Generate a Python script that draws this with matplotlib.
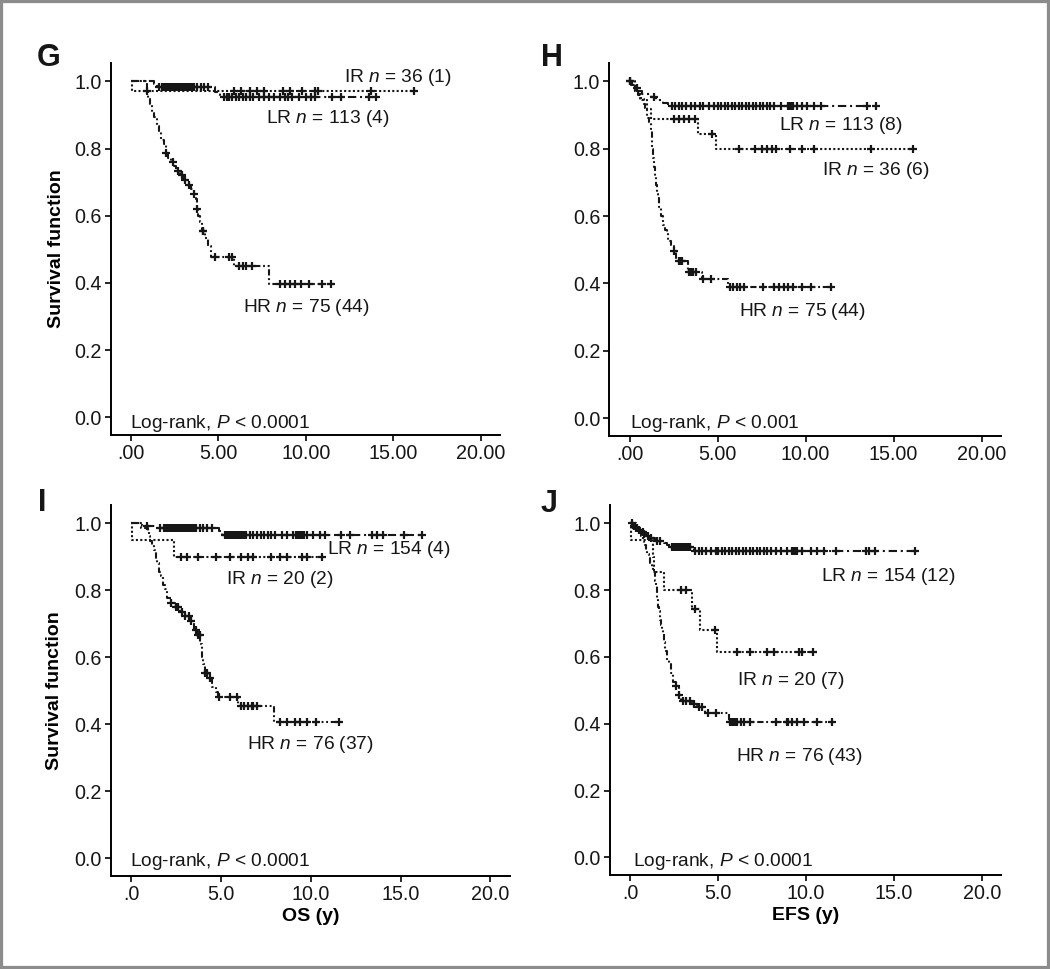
import numpy as np
import matplotlib.pyplot as plt
from matplotlib.patches import Rectangle

plt.rcParams['font.family'] = ['Liberation Sans', 'DejaVu Sans']
plt.rcParams['mathtext.fontset'] = 'custom'
plt.rcParams['mathtext.rm'] = 'Liberation Sans'
plt.rcParams['mathtext.it'] = 'Liberation Sans:italic'

# ---- panel G (OS, first cohort) ----
g_lr_t = [1.3, 1.5, 4.8, 5.1]
g_lr_s = [0.991, 0.982, 0.968, 0.955]
g_lr_end = 14.0
g_lr_cens = [1.6, 1.8, 1.9, 2.0, 2.1, 2.2, 2.3, 2.4, 2.5, 2.6, 2.7, 2.8, 2.9, 3.0, 3.1, 3.2,
             3.3, 3.4, 3.5, 3.6, 3.8, 4.0, 4.2, 4.4, 5.3, 5.5, 5.6, 5.8, 6.0, 6.2, 6.4, 6.6,
             6.8, 7.0, 7.3, 7.6, 7.9, 8.2, 8.5, 8.8, 9.0, 9.2, 9.6, 10.0, 10.3, 10.5, 11.5,
             12.0, 13.6, 14.0]

g_ir_t = [0.05]
g_ir_s = [0.972]
g_ir_end = 16.2
g_ir_cens = [5.9, 6.3, 6.8, 7.2, 7.6, 8.7, 9.1, 9.8, 10.5, 10.7, 13.7, 16.2]

g_hr_t = [0.9, 1.0, 1.1, 1.2, 1.35, 1.5, 1.6, 1.75, 1.9, 2.0, 2.15, 2.3, 2.45, 2.6, 2.8,
          3.0, 3.3, 3.45, 3.6, 3.7, 3.8, 3.85, 3.95, 4.05, 4.25, 4.4, 4.6, 5.9, 7.9]
g_hr_s = [0.973, 0.947, 0.933, 0.907, 0.893, 0.867, 0.853, 0.827, 0.813, 0.787, 0.773, 0.76,
          0.747, 0.733, 0.72, 0.707, 0.693, 0.68, 0.665, 0.65, 0.62, 0.60, 0.58, 0.555, 0.535,
          0.51, 0.476, 0.449, 0.397]
g_hr_end = 11.43
g_hr_cens = [0.95, 2.0, 2.4, 2.7, 2.9, 3.1, 3.3, 3.6, 3.8, 4.1, 4.15, 4.8, 5.6, 5.8, 6.2,
             6.4, 6.6, 6.9, 8.5, 8.8, 9.1, 9.4, 9.7, 10.2, 10.9, 11.43]

# ---- panel H (EFS, first cohort) ----
h_lr_t = [0.1, 0.3, 0.5, 0.7, 1.2, 1.5, 1.9, 2.2]
h_lr_s = [0.991, 0.982, 0.973, 0.964, 0.955, 0.946, 0.937, 0.928]
h_lr_end = 14.0
h_lr_cens = [0.05, 0.4, 1.4, 2.4, 2.6, 2.8, 3.0, 3.2, 3.5, 3.7, 4.0, 4.2, 4.5, 4.8, 5.0, 5.2,
             5.4, 5.6, 5.8, 6.0, 6.2, 6.4, 6.6, 6.8, 7.0, 7.2, 7.4, 7.6, 7.8, 8.0, 8.2, 8.6,
             9.0, 9.1, 9.2, 9.3, 9.5, 9.8, 10.1, 10.5, 10.9, 13.5, 14.0]

h_ir_t = [0.3, 0.6, 1.0, 1.2, 3.9, 4.9]
h_ir_s = [0.972, 0.944, 0.917, 0.889, 0.844, 0.800]
h_ir_end = 16.2
h_ir_cens = [2.5, 2.8, 3.1, 3.4, 3.7, 4.7, 6.2, 7.1, 7.5, 7.8, 8.1, 8.3, 9.1, 9.8, 10.5, 13.7, 16.1]

h_hr_t = [0.15, 0.3, 0.5, 0.65, 0.8, 0.9, 1.0, 1.1, 1.2, 1.25, 1.3, 1.35, 1.4, 1.45, 1.5,
          1.55, 1.6, 1.65, 1.7, 1.8, 1.9, 2.0, 2.1, 2.2, 2.35, 2.5, 2.65, 3.3, 4.1, 5.6]
h_hr_s = [0.987, 0.973, 0.96, 0.947, 0.933, 0.92, 0.893, 0.88, 0.853, 0.827, 0.80, 0.773,
          0.747, 0.72, 0.693, 0.667, 0.653, 0.64, 0.627, 0.60, 0.573, 0.56, 0.547, 0.527,
          0.513, 0.497, 0.468, 0.433, 0.414, 0.389]
h_hr_end = 11.45
h_hr_cens = [0.05, 2.5, 2.8, 2.9, 3.0, 3.4, 3.5, 3.6, 3.8, 4.2, 4.6, 5.7, 5.9, 6.1, 6.3,
             6.5, 7.6, 8.2, 8.5, 8.8, 9.0, 9.3, 9.8, 10.3, 11.45]

# ---- panel I (OS, second cohort) ----
i_lr_t = [0.6, 1.45, 4.9, 5.05]
i_lr_s = [0.993, 0.986, 0.976, 0.966]
i_lr_end = 16.2
i_lr_cens = [0.9, 1.6, 1.8, 1.9, 2.0, 2.1, 2.2, 2.3, 2.4, 2.5, 2.6, 2.7, 2.8, 2.9, 3.0, 3.1,
             3.2, 3.3, 3.4, 3.5, 3.6, 3.8, 4.0, 4.2, 4.5, 5.2, 5.3, 5.4, 5.5, 5.6, 5.7, 5.8,
             5.9, 6.0, 6.1, 6.2, 6.3, 6.4, 6.6, 6.8, 7.0, 7.2, 7.4, 7.6, 7.8, 8.0, 8.4, 8.7,
             9.0, 9.2, 9.3, 9.4, 9.5, 9.6, 9.8, 10.1, 10.5, 10.8, 11.7, 12.2, 13.4, 13.7,
             14.0, 15.2, 16.2]

i_ir_t = [0.05, 2.38]
i_ir_s = [0.95, 0.90]
i_ir_end = 10.65
i_ir_cens = [2.75, 3.1, 3.7, 4.7, 5.5, 6.1, 6.5, 6.8, 7.8, 8.3, 8.7, 9.5, 9.8, 10.65]

i_hr_t = [0.52, 0.95, 1.0, 1.05, 1.15, 1.25, 1.35, 1.45, 1.55, 1.65, 1.75, 1.85, 2.0, 2.2,
          2.45, 2.7, 3.0, 3.3, 3.5, 3.7, 3.85, 3.95, 4.0, 4.1, 4.3, 4.5, 4.7, 4.85, 5.95, 7.95]
i_hr_s = [0.987, 0.974, 0.961, 0.947, 0.934, 0.921, 0.895, 0.882, 0.855, 0.842, 0.816, 0.803,
          0.776, 0.763, 0.75, 0.736, 0.722, 0.708, 0.681, 0.667, 0.64, 0.60, 0.58, 0.553,
          0.539, 0.51, 0.496, 0.481, 0.456, 0.406]
i_hr_end = 11.58
i_hr_cens = [2.2, 2.5, 2.6, 2.8, 3.0, 3.2, 3.3, 3.6, 3.7, 3.8, 4.1, 4.2, 4.4, 4.9, 5.5, 5.9,
             6.1, 6.3, 6.5, 6.7, 6.8, 7.0, 8.3, 8.7, 9.1, 9.4, 9.8, 10.3, 11.58]

# ---- panel J (EFS, second cohort) ----
j_lr_t = [0.15, 0.3, 0.45, 0.6, 0.75, 0.9, 1.1, 1.4, 1.9, 2.1, 2.3, 3.6]
j_lr_s = [0.9935, 0.987, 0.981, 0.974, 0.968, 0.961, 0.955, 0.948, 0.942, 0.935, 0.928, 0.918]
j_lr_end = 16.2
j_lr_cens = [0.2, 0.4, 0.5, 0.7, 0.8, 1.0, 1.2, 1.5, 1.7, 2.4, 2.5, 2.6, 2.7, 2.8, 2.9, 3.0,
             3.1, 3.2, 3.3, 3.4, 3.7, 3.9, 4.1, 4.3, 4.6, 4.9, 5.0, 5.2, 5.4, 5.6, 5.8, 6.0,
             6.2, 6.4, 6.6, 6.8, 7.0, 7.2, 7.4, 7.6, 7.8, 8.0, 8.3, 8.6, 8.9, 9.2, 9.3, 9.4,
             9.5, 9.8, 10.3, 10.6, 11.0, 11.7, 13.4, 13.6, 13.9, 16.2]

j_ir_t = [0.05, 1.3, 1.37, 1.9, 3.5, 3.97, 4.93]
j_ir_s = [0.95, 0.90, 0.853, 0.80, 0.745, 0.68, 0.614]
j_ir_end = 10.6
j_ir_cens = [2.9, 3.2, 3.7, 4.8, 6.1, 6.8, 7.8, 8.2, 9.6, 9.8, 10.4]

j_hr_t = [0.3, 0.5, 0.62, 0.7, 0.78, 0.87, 0.95, 1.05, 1.15, 1.25, 1.32, 1.4, 1.45, 1.5, 1.55,
          1.6, 1.65, 1.7, 1.75, 1.8, 1.85, 1.9, 2.0, 2.1, 2.2, 2.3, 2.45, 2.6, 2.75, 2.9,
          3.5, 3.8, 4.25, 5.6]
j_hr_s = [0.987, 0.974, 0.961, 0.947, 0.934, 0.921, 0.908, 0.895, 0.882, 0.868, 0.855, 0.829,
          0.816, 0.79, 0.776, 0.75, 0.737, 0.711, 0.697, 0.684, 0.671, 0.645, 0.618, 0.592,
          0.579, 0.553, 0.526, 0.513, 0.487, 0.469, 0.459, 0.449, 0.432, 0.404]
j_hr_end = 11.47
j_hr_cens = [0.1, 0.3, 2.6, 2.8, 3.0, 3.2, 3.4, 3.6, 3.9, 4.1, 4.4, 4.9, 5.7, 5.8, 5.9, 6.0,
             6.1, 6.3, 6.5, 6.8, 8.3, 8.9, 9.0, 9.2, 9.5, 9.9, 10.6, 11.47]

# line styles: LR dash-dot, IR dotted, HR dash-dot-dot
ls_lr = (0, (4, 1.8, 1, 1.8))
ls_ir = (0, (1, 1.1))
ls_hr = (0, (3, 1.3, 0.9, 1.3, 0.9, 1.3))


def km_curve(ax, times, surv, end, cens, ls):
    x = [0] + times + [end]
    y = [1.0] + surv + [surv[-1]]
    ax.step(x, y, where='post', color='#161616', lw=1.5, linestyle=ls)
    lev = np.array([1.0] + surv)
    cy = lev[np.searchsorted(times, cens, side='right')]
    ax.plot(cens, cy, linestyle='none', marker='+', ms=5.2, mew=1.6, color='#161616')


fig = plt.figure(figsize=(10.5, 9.69), dpi=100)

ax_g = fig.add_axes([0.1054, 0.5511, 0.3708, 0.3839])
ax_h = fig.add_axes([0.5803, 0.5501, 0.3730, 0.3849])
ax_i = fig.add_axes([0.1054, 0.0960, 0.3803, 0.3829])
ax_j = fig.add_axes([0.5810, 0.0970, 0.3724, 0.3818])

km_curve(ax_g, g_ir_t, g_ir_s, g_ir_end, g_ir_cens, ls_ir)
km_curve(ax_g, g_lr_t, g_lr_s, g_lr_end, g_lr_cens, ls_lr)
km_curve(ax_g, g_hr_t, g_hr_s, g_hr_end, g_hr_cens, ls_hr)

km_curve(ax_h, h_ir_t, h_ir_s, h_ir_end, h_ir_cens, ls_ir)
km_curve(ax_h, h_lr_t, h_lr_s, h_lr_end, h_lr_cens, ls_lr)
km_curve(ax_h, h_hr_t, h_hr_s, h_hr_end, h_hr_cens, ls_hr)

km_curve(ax_i, i_ir_t, i_ir_s, i_ir_end, i_ir_cens, ls_ir)
km_curve(ax_i, i_lr_t, i_lr_s, i_lr_end, i_lr_cens, ls_lr)
km_curve(ax_i, i_hr_t, i_hr_s, i_hr_end, i_hr_cens, ls_hr)

km_curve(ax_j, j_ir_t, j_ir_s, j_ir_end, j_ir_cens, ls_ir)
km_curve(ax_j, j_lr_t, j_lr_s, j_lr_end, j_lr_cens, ls_lr)
km_curve(ax_j, j_hr_t, j_hr_s, j_hr_end, j_hr_cens, ls_hr)

fs = 13.8
xticks = [0, 5, 10, 15, 20]
top_xlabels = ['.00', '5.00', '10.00', '15.00', '20.00']
bot_xlabels = ['.0', '5.0', '10.0', '15.0', '20.0']
yticks = [0.0, 0.2, 0.4, 0.6, 0.8, 1.0]

for ax in [ax_g, ax_h, ax_i, ax_j]:
    ax.set_xlim(-1.15, 21.1)
    ax.set_ylim(-0.053, 1.055)
    ax.spines['top'].set_visible(False)
    ax.spines['right'].set_visible(False)
    ax.spines['left'].set_linewidth(1.4)
    ax.spines['bottom'].set_linewidth(1.4)
    ax.set_xticks(xticks)
    ax.set_yticks(yticks)
    ax.set_yticklabels(['%.1f' % v for v in yticks])
    ax.tick_params(direction='out', length=4, width=1.3, labelsize=14.2, pad=2.5, colors='#161616')

ax_g.set_xticklabels(top_xlabels)
ax_h.set_xticklabels(top_xlabels)
ax_i.set_xticklabels(bot_xlabels)
ax_j.set_xticklabels(bot_xlabels)

# y labels (left column)
for ax in [ax_g, ax_i]:
    ax.set_ylabel('Survival function', fontsize=14, fontweight='bold')
    ax.yaxis.label.set_verticalalignment('center')
    ax.yaxis.set_label_coords(-0.14, 0.5)

ax_i.set_xlabel('OS (y)', fontsize=14, fontweight='bold')
ax_j.set_xlabel('EFS (y)', fontsize=14, fontweight='bold')
for ax in [ax_i, ax_j]:
    ax.xaxis.label.set_verticalalignment('center')
    ax.xaxis.set_label_coords(0.5, -0.11)

# group labels
tk = dict(fontsize=fs, va='center', ha='left', color='#161616')
ax_g.text(12.17, 1.011, r'IR $n$ = 36 (1)', **tk)
ax_g.text(7.71, 0.889, r'LR $n$ = 113 (4)', **tk)
ax_g.text(6.4, 0.326, r'HR $n$ = 75 (44)', **tk)
ax_g.text(-0.05, -0.018, r'Log-rank, $P$ < 0.0001', **tk)

ax_h.text(8.49, 0.869, r'LR $n$ = 113 (8)', **tk)
ax_h.text(10.96, 0.735, r'IR $n$ = 36 (6)', **tk)
ax_h.text(6.22, 0.317, r'HR $n$ = 75 (44)', **tk)
ax_h.text(0.0, -0.017, r'Log-rank, $P$ < 0.001', **tk)

ax_i.text(10.93, 0.922, r'LR $n$ = 154 (4)', **tk)
ax_i.text(5.26, 0.832, r'IR $n$ = 20 (2)', **tk)
ax_i.text(6.43, 0.339, r'HR $n$ = 76 (37)', **tk)
ax_i.text(-0.08, -0.01, r'Log-rank, $P$ < 0.0001', **tk)

ax_j.text(10.86, 0.840, r'LR $n$ = 154 (12)', **tk)
ax_j.text(6.1, 0.531, r'IR $n$ = 20 (7)', **tk)
ax_j.text(6.01, 0.301, r'HR $n$ = 76 (43)', **tk)
ax_j.text(0.15, -0.012, r'Log-rank, $P$ < 0.0001', **tk)

# panel letters
lk = dict(fontsize=22, fontweight='bold', va='center', ha='left', color='#161616')
fig.text(37 / 1050, 1 - 57.5 / 969, 'G', **lk)
fig.text(541 / 1050, 1 - 57.5 / 969, 'H', **lk)
fig.text(38 / 1050, 1 - 503 / 969, 'I', **lk)
fig.text(541 / 1050, 1 - 504 / 969, 'J', **lk)

# gray frame
fig.patches.append(Rectangle((0, 0), 1, 1, transform=fig.transFigure, fill=False,
                             edgecolor='#8c8c8c', linewidth=4.5))

fig.savefig('out.png', dpi=100)
